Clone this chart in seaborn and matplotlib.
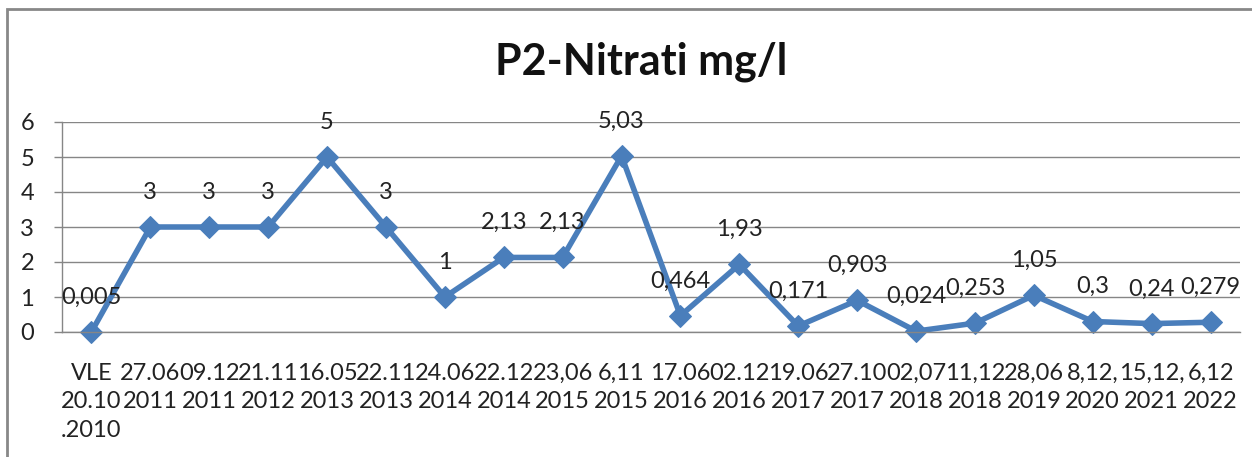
import numpy as np
import matplotlib
matplotlib.use("Agg")
import matplotlib.pyplot as plt
import seaborn as sns
from matplotlib.patches import Rectangle

dates = ["VLE\n20.10\n.2010", "27.06\n2011", "09.12\n2011", "21.11\n2012", "16.05\n2013",
         "22.11\n2013", "24.06\n2014", "22.12\n2014", "23,06\n2015", "6,11\n2015",
         "17.06\n2016", "02.12\n2016", "19.06\n2017", "27.10\n2017", "02,07\n2018",
         "11,12\n2018", "28,06\n2019", "8,12,\n2020", "15,12,\n2021", "6,12\n2022"]
nitrati = [0.005, 3, 3, 3, 5, 3, 1, 2.13, 2.13, 5.03, 0.464, 1.93, 0.171, 0.903,
           0.024, 0.253, 1.05, 0.3, 0.24, 0.279]
value_labels = ["0,005", "3", "3", "3", "5", "3", "1", "2,13", "2,13", "5,03", "0,464",
                "1,93", "0,171", "0,903", "0,024", "0,253", "1,05", "0,3", "0,24", "0,279"]

sns.set_style("white")
plt.rcParams["font.family"] = ["Lato", "DejaVu Sans"]

fig = plt.figure(figsize=(12.52, 4.57), dpi=100)
ax = fig.add_axes([62 / 1252, 1 - 332 / 457, (1240 - 62) / 1252, 210 / 457])

x = np.arange(len(nitrati))
sns.lineplot(x=x, y=nitrati, ax=ax, color="#4A7EBB", linewidth=4, marker="D",
             markersize=11, markeredgecolor="#4A7EBB")
for line in ax.lines:
    line.set_clip_on(False)

for xi, yi, lab in zip(x, nitrati, value_labels):
    ax.annotate(lab, (xi, yi), xytext=(0, 25), textcoords="offset points",
                ha="center", va="center", fontsize=17, color="#222222")

ax.set_xlim(-0.5, len(nitrati) - 0.5)
ax.set_ylim(0, 6)
ax.set_yticks(range(0, 7))
ax.set_xticks(x)
ax.set_xticklabels(dates, fontsize=17, linespacing=1.45, color="#222222")
ax.set_xticks(np.arange(len(nitrati) + 1) - 0.5, minor=True)
ax.tick_params(axis="x", which="major", length=0, pad=22)
ax.tick_params(axis="x", which="minor", length=6, color="#868686", width=1)
ax.tick_params(axis="y", length=6, color="#868686", width=1, labelsize=17,
               labelcolor="#222222", pad=14, left=True)
ax.yaxis.grid(True, color="#868686", linewidth=1)
ax.set_axisbelow(True)
for side in ["top", "right"]:
    ax.spines[side].set_visible(False)
for side in ["left", "bottom"]:
    ax.spines[side].set_color("#868686")
    ax.spines[side].set_linewidth(1)

fig.text(0.512, 1 - 62 / 457, "P2-Nitrati mg/l", ha="center", va="center",
         fontsize=31, fontweight="bold", color="#111111")

fig.patches.append(Rectangle((7 / 1252, -0.1), 1.2, 1.08,
                             transform=fig.transFigure, fill=False,
                             edgecolor="#888888", linewidth=2))

fig.savefig("out.png", dpi=100)
